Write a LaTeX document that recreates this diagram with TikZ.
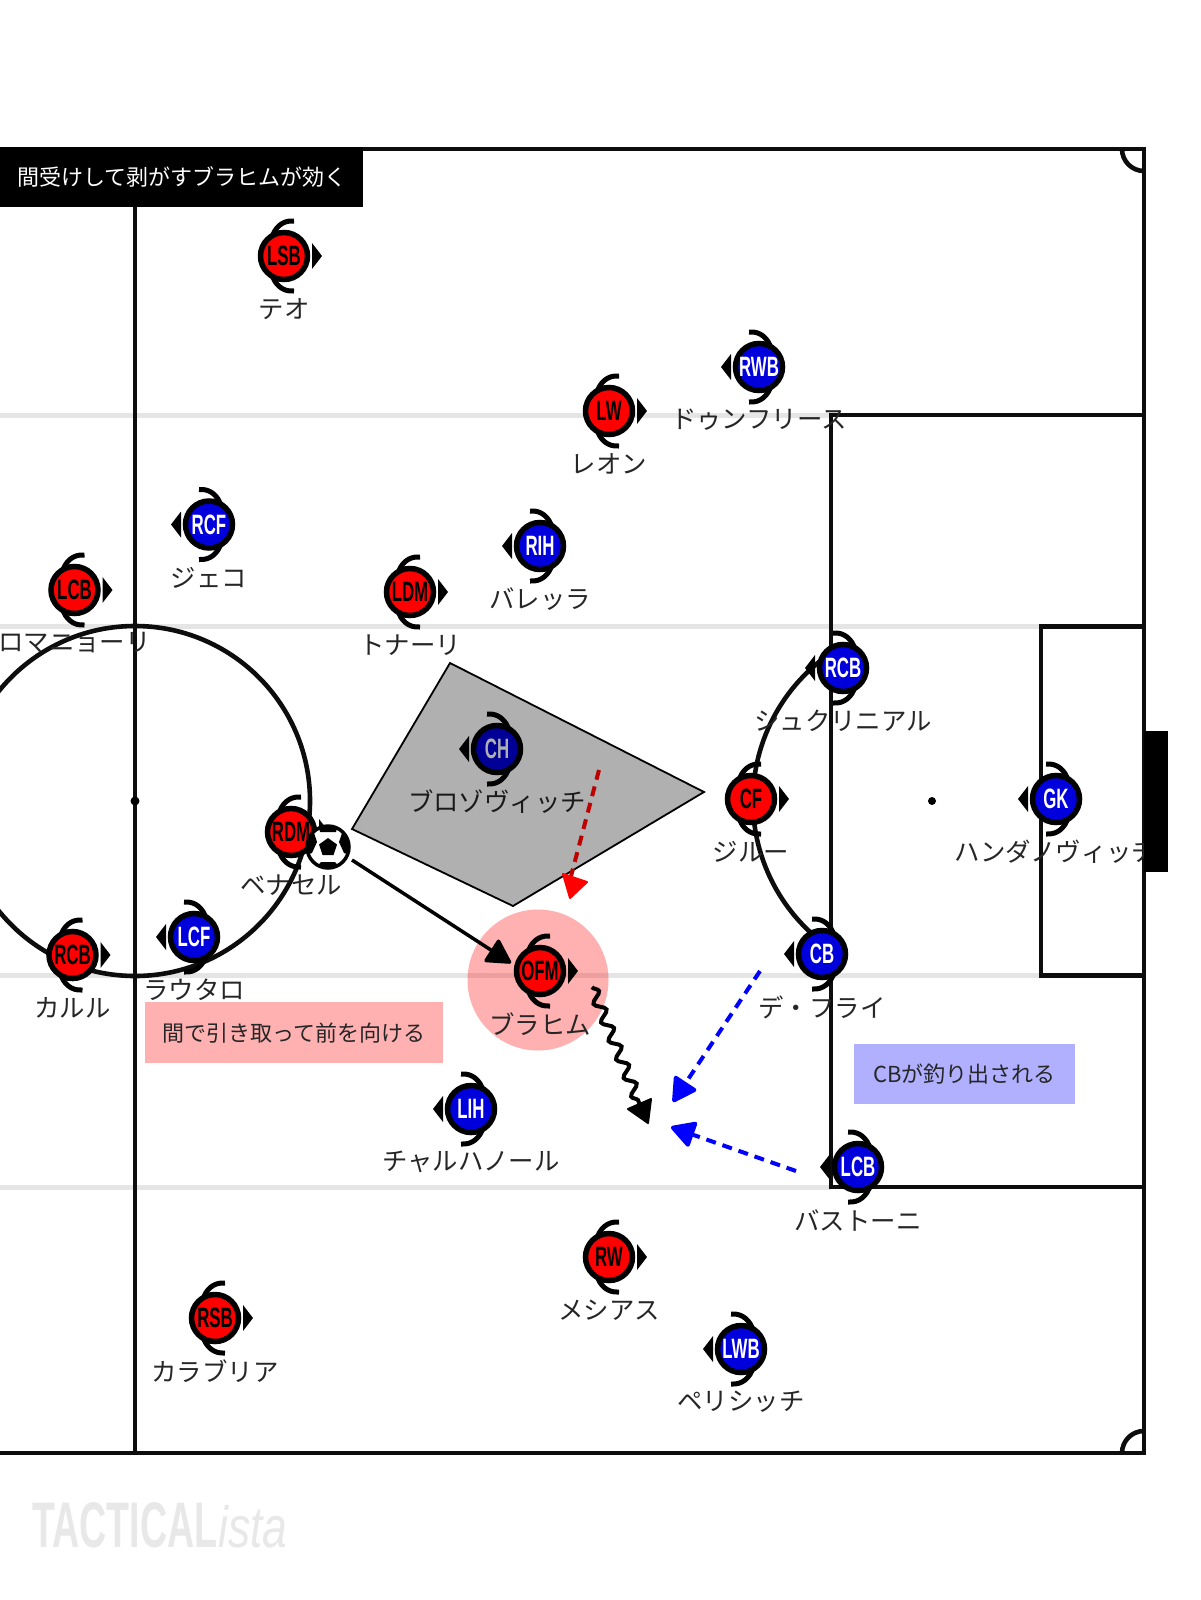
\documentclass[tikz,border=0pt]{standalone}
\usepackage{fontspec}
\usepackage{graphicx}
\usetikzlibrary{arrows.meta,decorations.pathmorphing}
\setmainfont{Liberation Sans}
\newfontfamily\jp{Noto Sans CJK JP}
\definecolor{pinkbox}{RGB}{255,176,176}
\definecolor{bluebox}{RGB}{176,176,255}
\definecolor{teamblue}{RGB}{0,0,220}
\definecolor{dashred}{RGB}{190,0,0}
\tikzset{
  lbl/.style={font=\jp\fontsize{25.4}{26}\selectfont,text=black!85,inner sep=0pt},
  disc/.style={circle,draw=black,line width=5.5pt,minimum size=47pt,inner sep=0pt,font=\bfseries\fontsize{28}{28}\selectfont},
  redp/.style={disc,fill=red,text=black},
  bluep/.style={disc,fill=teamblue,text=white},
  pline/.style={draw=black!95,line width=4.6pt},
  gline/.style={draw=black!10,line width=5pt},
  boxlbl/.style={font=\jp\fontsize{22}{23}\selectfont,inner sep=0pt},
  hd/.style={-{Triangle[length=26pt,width=28pt,round]}},
}
\newcommand{\plyr}[7]{% name,x,y,tag,label,style,dir
  \begin{scope}[shift={(#2,#3)},xscale=#7]
    \draw[line width=5pt,black] (10,-35) .. controls (-2,-36) and (-9,-28) .. (-12,-19);
    \draw[line width=5pt,black] (10,35) .. controls (-2,36) and (-9,28) .. (-12,19);
    \fill[black,line join=round] (28,-13) -- (38,0) -- (28,13) -- cycle;
  \end{scope}
  \node[#6] (#1) at (#2,#3) {\scalebox{0.6}[1]{#4}};
  \node[lbl] (#1l) at (#2,#3+53) {#5};
}
\begin{document}
\begin{tikzpicture}[x=1pt,y=-1pt]
\useasboundingbox (0,0) rectangle (1200,1600);
\clip (0,0) rectangle (1200,1600);
\fill[white] (0,0) rectangle (1200,1600);
% gray lines
\draw[gline] (0,415) -- (831,415);
\draw[gline] (0,626.5) -- (1041,626.5);
\draw[gline] (0,975.5) -- (1041,975.5);
\draw[gline] (0,1187) -- (831,1187);
% pitch
\draw[pline] (-10,149) -- (1144,149) -- (1144,1453) -- (-10,1453);
\draw[pline] (135,149) -- (135,1453);
\draw[pline] (135,801) circle (175);
\fill[black] (135,801) circle (4.5);
\draw[pline] (1144,415) -- (831,415) -- (831,1187) -- (1144,1187);
\draw[pline] (1144,626.5) -- (1041,626.5) -- (1041,975.5) -- (1144,975.5);
\fill[black] (932,801) circle (4);
\draw[pline] (831,653) arc[start angle=235.7,end angle=124.3,radius=179];
\draw[pline] (1122,149) arc[start angle=180,end angle=90,radius=22];
\draw[pline] (1122,1453) arc[start angle=180,end angle=270,radius=22];
% highlight
\fill[red,opacity=.31] (538,980) circle (70.5);
% players
\plyr{lsb}{284}{256}{LSB}{テオ}{redp}{1}
\plyr{lw}{609}{411}{LW}{レオン}{redp}{1}
\plyr{lcbr}{74.5}{590}{LCB}{ロマニョーリ}{redp}{1}
\plyr{ldm}{410}{592}{LDM}{トナーリ}{redp}{1}
\plyr{rdm}{291}{832}{RDM}{ベナセル}{redp}{1}
\plyr{rcbr}{72.5}{955}{RCB}{カルル}{redp}{1}
\plyr{ofm}{540}{971}{OFM}{ブラヒム}{redp}{1}
\plyr{rw}{609}{1257}{RW}{メシアス}{redp}{1}
\plyr{rsb}{215}{1318}{RSB}{カラブリア}{redp}{1}
\plyr{cf}{751}{799}{CF}{ジルー}{redp}{1}
\plyr{rwb}{759}{367}{RWB}{ドゥンフリース}{bluep}{-1}
\plyr{rcf}{209}{524.5}{RCF}{ジェコ}{bluep}{-1}
\plyr{rih}{540}{546}{RIH}{バレッラ}{bluep}{-1}
\plyr{rcbb}{843}{668}{RCB}{シュクリニアル}{bluep}{-1}
\plyr{ch}{497}{749}{CH}{ブロゾヴィッチ}{bluep}{-1}
\plyr{lcf}{194}{937}{LCF}{ラウタロ}{bluep}{-1}
\plyr{gk}{1056}{799}{GK}{ハンダノヴィッチ}{bluep}{-1}
\plyr{cb}{822}{954}{CB}{デ・フライ}{bluep}{-1}
\plyr{lih}{471}{1109}{LIH}{チャルハノール}{bluep}{-1}
\plyr{lcbb}{858}{1167}{LCB}{バストーニ}{bluep}{-1}
\plyr{lwb}{741}{1349}{LWB}{ペリシッチ}{bluep}{-1}
% goal
\fill[black] (1144,731) rectangle (1168,872);
% zone
\draw[black,line width=1.8pt,fill=black,fill opacity=.31,draw opacity=1] (450,663) -- (704,792) -- (513,906) -- (352,829) -- cycle;
% ball
\node[circle,draw=black,line width=3.5pt,fill=white,minimum size=42pt,inner sep=0pt] (ball) at (328,847) {};
\begin{scope}
  \clip (328,847) circle (20);
  \fill[black] (328,838) -- (337,844.5) -- (333.5,855) -- (322.5,855) -- (319,844.5) -- cycle;
  \fill[black] (328,826) -- (338,824) -- (336,832) -- (320,832) -- (318,824) -- cycle;
  \fill[black] (350,834) -- (350,855) -- (344,853) -- (339,842) -- (342,833) -- cycle;
  \fill[black] (306,834) -- (306,855) -- (312,853) -- (317,842) -- (314,833) -- cycle;
  \fill[black] (314,870) -- (321,862) -- (335,862) -- (342,870) -- cycle;
\end{scope}
% arrows
\coordinate (a1) at (352,860);
\coordinate (a2) at (511,963);
\draw[line width=3.5pt,black,hd] (a1) -- (a2);
\coordinate (w1) at (592,987);
\coordinate (w2) at (640,1105);
\draw[line width=4pt,black,decorate,decoration={snake,amplitude=5pt,segment length=20pt,post length=2pt}] (w1) -- (w2);
\fill[black,draw=black,line width=2pt,line join=round] (651,1099) -- (628,1109) -- (648,1123) -- cycle;
\coordinate (r1) at (599,770);
\coordinate (r2) at (570,880);
\draw[line width=4pt,dashred,dash pattern=on 10pt off 7pt] (r1) -- (r2);
\fill[red,draw=red,line width=2pt,line join=round] (563,874) -- (587,882) -- (570,898) -- cycle;
\coordinate (b1) at (760,971);
\coordinate (b2) at (673,1102);
\draw[line width=4pt,blue,dash pattern=on 10pt off 7pt,hd] (b1) -- (b2);
\coordinate (c1) at (796,1171);
\coordinate (c2) at (671,1127);
\draw[line width=4pt,blue,dash pattern=on 10pt off 7pt,hd] (c1) -- (c2);
% boxes
\node[fill=black,text=white,boxlbl,minimum width=363pt,minimum height=60pt,anchor=north west] (title) at (0,147) {\raisebox{1.5pt}{間受けして剥がすブラヒムが効く}};
\node[fill=pinkbox,text=black!85,boxlbl,minimum width=298pt,minimum height=61pt,anchor=north west] (pb) at (145,1002) {\raisebox{1.5pt}{間で引き取って前を向ける}};
\node[fill=bluebox,text=black!85,boxlbl,minimum width=221pt,minimum height=60pt,anchor=north west] (bb) at (854,1044) {\raisebox{1pt}{CBが釣り出される}};
% watermark
\node[inner sep=0pt,anchor=north west,text=black!9] (wm1) at (32,1502) {\resizebox{185pt}{45pt}{\bfseries TACTICAL}};
\node[inner sep=0pt,anchor=north west,text=black!9] (wm2) at (218,1505) {\resizebox{69pt}{42pt}{\itshape ista}};
\end{tikzpicture}
\end{document}
